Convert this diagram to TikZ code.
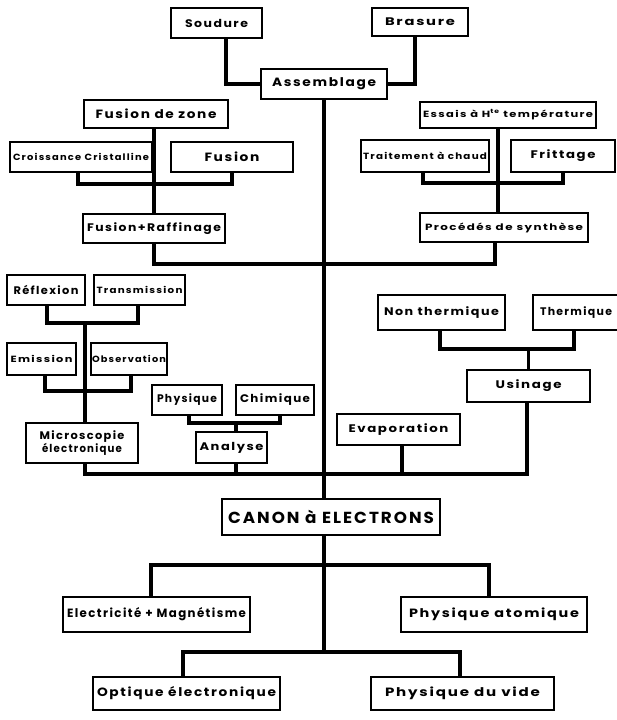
\documentclass[tikz,border=0pt]{standalone}
\usepackage{graphicx}
\usepackage{fontspec}
\setmainfont{Poppins}[LetterSpace=12]
\usetikzlibrary{calc}
\newsavebox\mytxtbox
\newcommand\fw[2]{\sbox\mytxtbox{#2}\pgfmathsetmacro\myscl{#1/(\the\wd\mytxtbox)}\scalebox{\myscl}[1]{\usebox\mytxtbox}}
\newcommand\mybox[8][]{\node[box,#1,minimum width={(#5-#3)*1pt},minimum height={(#6-#4)*1pt}] (#2) at ({(#3+#5)/2},{(#4+#6)/2}) {\fw{#7}{#8}};}
\begin{document}
\begin{tikzpicture}[x=1pt,y=-1pt,
  box/.style={draw,line width=2pt,inner sep=0pt,align=center,font=\fontsize{11}{12}\selectfont\bfseries},
  small/.style={font=\fontsize{9}{10}\selectfont\bfseries},
  big/.style={font=\fontsize{16}{18}\selectfont\bfseries},
  mid/.style={font=\fontsize{12}{13}\selectfont\bfseries},
  link/.style={line width=3.6pt}]
\useasboundingbox (0,0) rectangle (616,720);
% boxes: [style]{name}{x1}{y1}{x2}{y2}{text width}{text}
\mybox{soudure}{171}{8}{262}{38}{63}{Soudure}
\mybox{brasure}{372}{8}{468}{36}{70}{Brasure}
\mybox[mid]{assemblage}{261}{69}{387}{99}{104}{Assemblage}
\mybox[mid]{fzone}{84}{100}{228}{128}{121}{Fusion de zone}
\mybox[small]{croiss}{10}{142}{152}{172}{136}{Croissance Cristalline}
\mybox[mid]{fusion}{171}{142}{293}{172}{55}{Fusion}
\mybox{fraff}{83}{214}{225}{243}{134}{Fusion+Raffinage}
\mybox[small]{essais}{420}{102}{596}{128}{170}{Essais à H\textsuperscript{te} température}
\mybox[small]{trait}{361}{140}{489}{172}{124}{Traitement à chaud}
\mybox{fritt}{511}{140}{615}{172}{65}{Frittage}
\mybox[small]{proc}{420}{213}{588}{242}{158}{Procédés de synthèse}
\mybox{refl}{7}{275}{85}{305}{65}{Réflexion}
\mybox[small]{trans}{94}{275}{185}{305}{86}{Transmission}
\mybox[small]{emis}{7}{343}{76}{375}{62}{Emission}
\mybox[small]{obs}{91}{343}{167}{375}{74}{Observation}
\node[box,minimum width=112pt,minimum height=40pt] (micro) at (82,443) {\fw{85}{Microscopie}\\\fw{80}{électronique}};
\mybox{phys}{152}{385}{222}{415}{60}{Physique}
\mybox{chim}{236}{385}{314}{415}{70}{Chimique}
\mybox{analyse}{196}{432}{267}{463}{64}{Analyse}
\mybox{nonth}{378}{295}{505}{330}{115}{Non thermique}
\mybox{therm}{533}{295}{619}{330}{72}{Thermique}
\mybox{usinage}{467}{370}{590}{402}{66}{Usinage}
\mybox{evap}{337}{414}{460}{445}{100}{Evaporation}
\mybox[big]{canon}{222}{499}{440}{535}{206}{CANON à ELECTRONS}
\mybox[mid]{elec}{63}{597}{250}{632}{179}{Electricité + Magnétisme}
\mybox[mid]{physat}{401}{597}{587}{632}{170}{Physique atomique}
\mybox[mid]{optique}{93}{677}{280}{710}{179}{Optique électronique}
\mybox[mid]{vide}{371}{677}{554}{710}{155}{Physique du vide}
% junction coordinates
\coordinate (j1) at (154,184);
\coordinate (j2) at (498,183);
\coordinate (bb) at (0,474);
\coordinate (j3) at (324,565);
\coordinate (j4) at (324,652);
% connectors
\draw[link] ([xshift=9.5pt]soudure.south) |- (assemblage.west);
\draw[link] ([xshift=-5pt]brasure.south) |- (assemblage.east);
\draw[link] (assemblage.south) -- (assemblage.south |- canon.north);
\draw[link] ([xshift=-2pt]fzone.south) -- ([xshift=-2pt]fzone.south |- fraff.north);
\draw[link] ([xshift=-3pt]croiss.south) |- (j1) -| (fusion.south);
\draw[link] (fraff.south) -- ++(0,20) -| ([xshift=-9pt]proc.south);
\draw[link] ([xshift=-10pt]essais.south) -- ([xshift=-10pt]essais.south |- proc.north);
\draw[link] ([xshift=-2pt]trait.south) |- (j2) -| (fritt.south);
\draw[link] ([xshift=1pt]refl.south) -- ++(0,17) -| ([xshift=-1.5pt]trans.south);
\draw[link] ([xshift=3pt]micro.north) -- ++(0,-101);
\draw[link] ([xshift=3.5pt]emis.south) -- ++(0,15) -| ([xshift=2pt]obs.south);
\draw[link] ([xshift=2pt]phys.south) -- ++(0,7) -| ([xshift=5pt]chim.south);
\draw[link] ([xshift=4.5pt]analyse.north) -- ++(0,-10);
\draw[link] ([xshift=-1.5pt]nonth.south) -- ++(0,18) -| ([xshift=-2pt]therm.south);
\draw[link] (usinage.north) -- ++(0,-22);
\draw[link] ([xshift=3pt]micro.south) |- ([xshift=-1.5pt]usinage.south |- bb) -- ([xshift=-1.5pt]usinage.south);
\draw[link] ([xshift=4.5pt]analyse.south) -- ([xshift=4.5pt]analyse.south |- bb);
\draw[link] ([xshift=3.5pt]evap.south) -- ([xshift=3.5pt]evap.south |- bb);
\draw[link] ([xshift=-7pt]canon.south) -- (j4);
\draw[link] ([xshift=-5.5pt]elec.north) |- (j3) -| ([xshift=-5pt]physat.north);
\draw[link] ([xshift=-3.5pt]optique.north) |- (j4) -| ([xshift=-2.5pt]vide.north);
\end{tikzpicture}
\end{document}
